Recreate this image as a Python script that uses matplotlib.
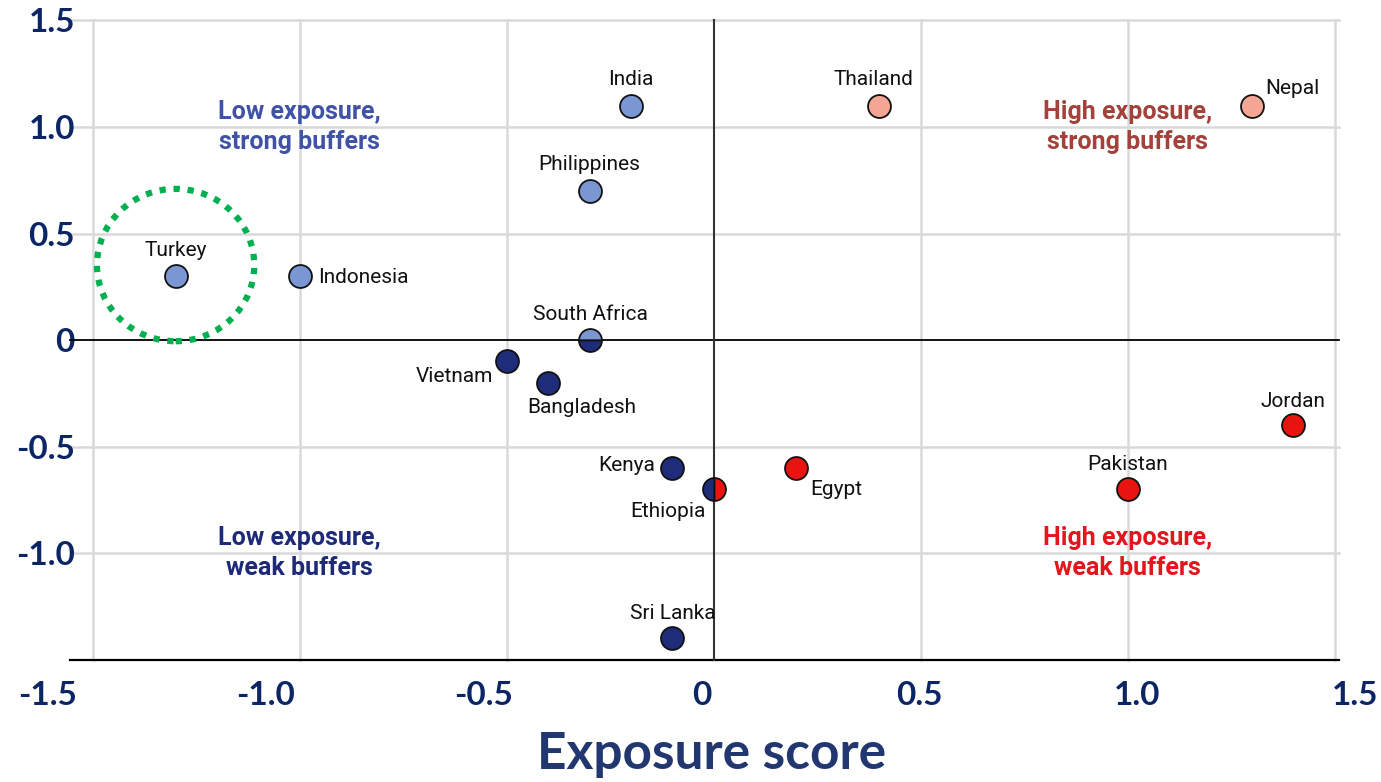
import matplotlib.pyplot as plt
from matplotlib.patches import Ellipse

# Country positions (exposure score, buffer score).
countries = ["Turkey", "Indonesia", "India", "Philippines", "South Africa",
             "Vietnam", "Bangladesh", "Kenya", "Ethiopia", "Sri Lanka",
             "Egypt", "Thailand", "Nepal", "Jordan", "Pakistan"]
exposure = [-1.30, -1.00, -0.20, -0.30, -0.30,
            -0.50, -0.40, -0.10, 0.00, -0.10,
            0.20, 0.40, 1.30, 1.40, 1.00]
buffers = [0.30, 0.30, 1.10, 0.70, 0.00,
           -0.10, -0.20, -0.60, -0.70, -1.40,
           -0.60, 1.10, 1.10, -0.40, -0.70]
group = ["lb", "lb", "lb", "lb", "lb/db",
         "db", "db", "db", "db/red", "db",
         "red", "pink", "pink", "red", "red"]

tick_vals = [-1.5, -1.0, -0.5, 0.0, 0.5, 1.0, 1.5]
tick_text = ["-1.5", "-1.0", "-0.5", "0", "0.5", "1.0", "1.5"]
ytick_vals = [-1.0, -0.5, 0.0, 0.5, 1.0, 1.5]
ytick_text = ["-1.0", "-0.5", "0", "0.5", "1.0", "1.5"]

quadrants = ["Low exposure,\nstrong buffers", "High exposure,\nstrong buffers",
             "Low exposure,\nweak buffers", "High exposure,\nweak buffers"]
quad_x = [-1.0, 1.0, -1.0, 1.0]
quad_y = [1.0, 1.0, -1.0, -1.0]
quad_col = ["#4052A6", "#A3413B", "#1E2A78", "#E6141C"]

COLORS = {"lb": "#7B97D3", "db": "#1F2C7A", "red": "#E8140F", "pink": "#F5A594"}
NAVY = "#0B2565"

# label placement: (dx, dy) in pixels, ha
label_pos = {
    "Turkey": (0, 26, "center"), "Indonesia": (18, -1, "left"),
    "India": (0, 26, "center"), "Philippines": (0, 26, "center"),
    "South Africa": (1, 26, "center"), "Vietnam": (-14, -15, "right"),
    "Bangladesh": (34, -25, "center"), "Kenya": (-17, 2, "right"),
    "Ethiopia": (-46, -22, "center"), "Sri Lanka": (0, 25, "center"),
    "Egypt": (14, -22, "left"), "Thailand": (-6, 26, "center"),
    "Nepal": (13, 17, "left"), "Jordan": (0, 24, "center"),
    "Pakistan": (0, 25, "center"),
}

fig = plt.figure(figsize=(13.81, 7.82), dpi=100)
ax = fig.add_axes([68 / 1381, 118 / 782, 1279 / 1381, 650 / 782])
ax.set_xlim(-1.56, 1.53)
ax.set_ylim(-1.52, 1.53)
for s in ax.spines.values():
    s.set_visible(False)

# grid
grid_c = "#D9D9D9"
for v in [-1.5, -1.0, -0.5, 0.5, 1.0, 1.5]:
    ax.plot([v, v], [-1.5, 1.5], color=grid_c, lw=1.8, zorder=1)
for v in [-1.0, -0.5, 0.5, 1.0, 1.5]:
    ax.plot([-1.55, 1.51], [v, v], color=grid_c, lw=1.8, zorder=1)
ax.plot([-1.555, 1.51], [0, 0], color="black", lw=1.3, zorder=2)
ax.plot([-1.555, 1.51], [-1.5, -1.5], color="black", lw=1.6, zorder=2)
ax.plot([0, 0], [-1.5, 1.5], color="#333333", lw=1.5, zorder=2)

# points
for name, x, y, g in zip(countries, exposure, buffers, group):
    if "/" in g:
        c1, c2 = g.split("/")
        fs = "top" if name == "South Africa" else "left"
        ax.plot(x, y, marker="o", ms=16.5, fillstyle=fs,
                markerfacecolor=COLORS[c1], markerfacecoloralt=COLORS[c2],
                markeredgecolor="#111111", mew=1.3, zorder=4)
    else:
        ax.plot(x, y, marker="o", ms=16.5, color=COLORS[g],
                markeredgecolor="#111111", mew=1.3, zorder=4)
    dx, dy, ha = label_pos[name]
    ax.annotate(name, (x, y), xytext=(dx, dy), textcoords="offset pixels",
                ha=ha, va="center", fontsize=15, family="Roboto",
                color="#111111", zorder=5)

# quadrant labels
for t, x, y, c in zip(quadrants, quad_x, quad_y, quad_col):
    ax.text(x, y, t, ha="center", va="center", fontsize=18,
            fontweight="bold", family="Roboto", color=c,
            linespacing=1.3, zorder=5)

# highlight ring around Turkey
ring = Ellipse((-1.30, 0.352), 0.38, 0.715, fill=False, edgecolor="#00B050",
               lw=4.5, linestyle=(0, (1, 1.25)), zorder=3)
ax.add_patch(ring)

# y tick labels
ax.set_yticks(ytick_vals)
ax.set_yticklabels(ytick_text)
ax.tick_params(axis="y", length=0, pad=-5, labelsize=24, labelcolor=NAVY)
for lab in ax.get_yticklabels():
    lab.set_fontweight("bold")
    lab.set_family("Lato")
ax.set_xticks([])

# x tick labels sit on a slightly wider scale than the grid
lab_ax = fig.add_axes([48 / 1381, 118 / 782, 1307 / 1381, 0.0001])
lab_ax.set_xlim(-1.5, 1.5)
lab_ax.set_xticks(tick_vals)
lab_ax.set_xticklabels(tick_text)
lab_ax.set_yticks([])
lab_ax.patch.set_visible(False)
for s in lab_ax.spines.values():
    s.set_visible(False)
lab_ax.tick_params(axis="x", length=0, pad=12, labelsize=24, labelcolor=NAVY)
for lab in lab_ax.get_xticklabels():
    lab.set_fontweight("bold")
    lab.set_family("Lato")

fig.text(712 / 1381, 1 - 755 / 782, "Exposure score", ha="center", va="center",
         fontsize=37, fontweight="bold", family="Lato", color="#22376F")

fig.savefig("out.png", dpi=100)
